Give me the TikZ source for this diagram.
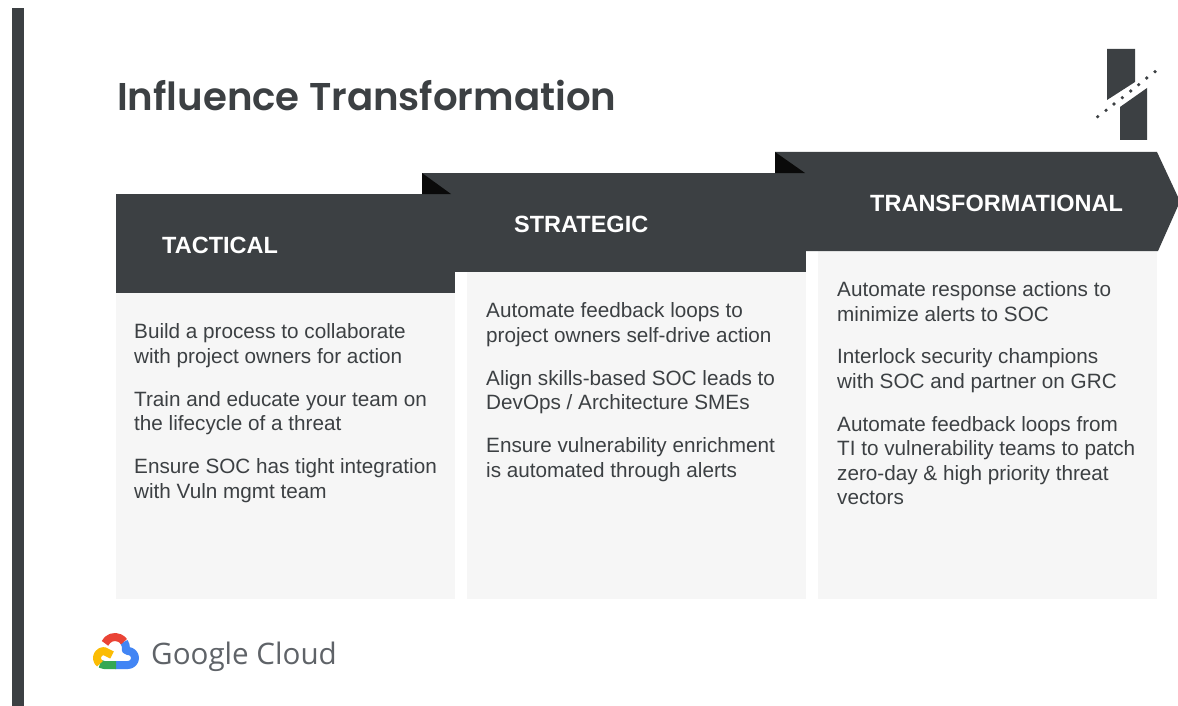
\documentclass[tikz,border=0pt]{standalone}
\usepackage{fontspec}
\setmainfont{Liberation Sans}
\newfontfamily\titlefont[UprightFont=* SemiBold]{Poppins}
\newfontfamily\gfont{Open Sans}
\definecolor{ink}{HTML}{3C4043}
\definecolor{panelgray}{HTML}{F6F6F6}
\definecolor{notch}{HTML}{0A0A0A}
\definecolor{gcgray}{HTML}{5F6368}
\definecolor{gred}{HTML}{EA4335}
\definecolor{gblue}{HTML}{4285F4}
\definecolor{gyellow}{HTML}{FBBC04}
\definecolor{ggreen}{HTML}{34A853}
\tikzset{
  panel/.style={fill=panelgray,draw=none},
  band/.style={fill=ink,draw=none},
  fold/.style={fill=notch,draw=none},
  head/.style={anchor=base west,inner sep=0pt,text=white,font=\fontsize{23.5}{27}\selectfont\bfseries},
  body/.style={anchor=north west,inner sep=0pt,align=left,text=ink,font=\fontsize{20.7}{24.5}\selectfont},
  dotmark/.style={fill=ink,draw=none},
  logopart/.style={line width=8pt,line cap=butt,line join=round},
}
\begin{document}
\begin{tikzpicture}[x=1pt,y=-1pt]
\useasboundingbox (0,0) rectangle (1178,706);
\fill[white] (0,0) rectangle (1178,706);
\fill[ink] (12,8) rectangle (24,706);
\node[anchor=base west,inner sep=0pt,text=ink,font=\titlefont\fontsize{38.7}{44}\selectfont] (title) at (117,110.5) {Influence Transformation};
% brand mark
\fill[ink] (1107,49) -- (1135,49) -- (1135,82) -- (1107,100) -- cycle;
\fill[ink] (1120,107) -- (1147,88) -- (1147,140) -- (1120,140) -- cycle;
\foreach \px/\py in {1097.7/116.7,1106/110.3,1114/104,1122.3/97.7,1130.7/91,1138.7/84.7,1146.7/78,1155/71.7}
  \fill[dotmark] (\px,\py) circle (1.8);
% panels
\fill[panel] (116,293) rectangle (455,599);
\fill[panel] (467,272) rectangle (806,599);
\fill[panel] (818,251) rectangle (1157,599);
% bands
\fill[band] (775,152) -- (1157,152) -- (1178,197) -- (1178,206) -- (1158,251) -- (775,251) -- cycle;
\fill[band] (422,173) -- (806,173) -- (806,272) -- (422,272) -- cycle;
\fill[band] (116,194) -- (455,194) -- (455,293) -- (116,293) -- cycle;
\fill[fold] (422,173) -- (422,194) -- (451,194) -- cycle;
\fill[fold] (775,152) -- (775,173) -- (805,173) -- cycle;
% headings
\node[head] (h1) at (162,253) {TACTICAL};
\node[head] (h2) at (514,232) {STRATEGIC};
\node[head] (h3) at (870,211) {TRANSFORMATIONAL};
% column 1
\node[body] (a1) at (134,323.5) {Build a process to collaborate\\with project owners for action};
\node[body] (a2) at (134,391) {Train and educate your team on\\the lifecycle of a threat};
\node[body] (a3) at (134,458.5) {Ensure SOC has tight integration\\with Vuln mgmt team};
% column 2
\node[body] (b1) at (486,302.5) {Automate feedback loops to\\project owners self-drive action};
\node[body] (b2) at (486,370) {Align skills-based SOC leads to\\DevOps / Architecture SMEs};
\node[body] (b3) at (486,437.5) {Ensure vulnerability enrichment\\is automated through alerts};
% column 3
\node[body] (c1) at (837,281.5) {Automate response actions to\\minimize alerts to SOC};
\node[body] (c2) at (837,348.5) {Interlock security champions\\with SOC and partner on GRC};
\node[body] (c3) at (837,416) {Automate feedback loops from\\TI to vulnerability teams to patch\\zero-day \& high priority threat\\vectors};
% Google Cloud logo
\draw[logopart,gblue] (124,641.7) arc[start angle=325,end angle=370,radius=11] -- (128,651) arc[start angle=-90,end angle=90,radius=7] -- (115,665);
\draw[logopart,gred] (105,643.35) arc[start angle=205,end angle=325,radius=11];
\draw[logopart,ggreen] (116,665) -- (104,665) arc[start angle=90,end angle=125,radius=7];
\draw[logopart,gyellow] (100,663.73) arc[start angle=125,end angle=270,radius=7] -- (112,655);
\node[anchor=base west,inner sep=0pt,text=gcgray,font=\gfont\fontsize{29.6}{36}\selectfont] (gc) at (151,664) {Google Cloud};
\end{tikzpicture}
\end{document}
